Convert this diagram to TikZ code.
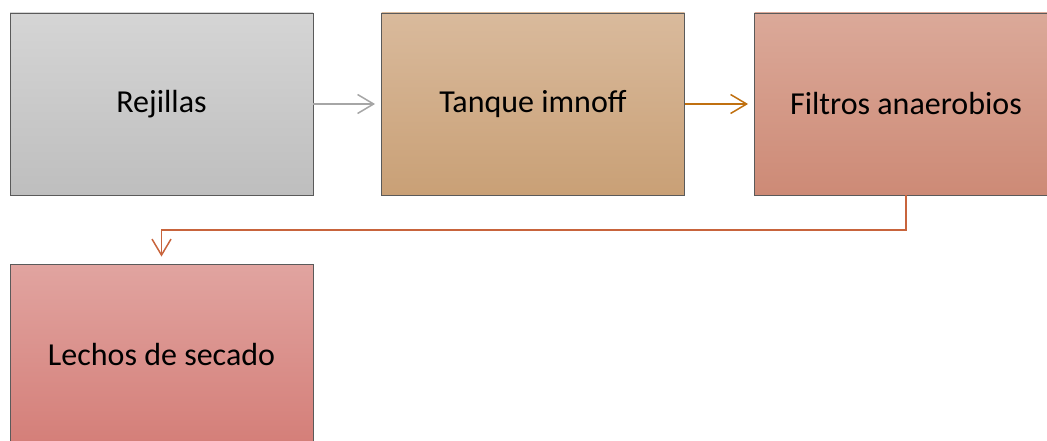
\documentclass[tikz,border=0pt]{standalone}
\usepackage{fontspec}
\setmainfont{Carlito}
\usetikzlibrary{arrows.meta}
\definecolor{borderc}{HTML}{5A5A5A}
\definecolor{grayt}{HTML}{D5D5D5}\definecolor{grayb}{HTML}{BEBEBE}
\definecolor{tant}{HTML}{D9BA9C}\definecolor{tanb}{HTML}{C9A076}
\definecolor{filt}{HTML}{DBA999}\definecolor{filb}{HTML}{CD8A76}
\definecolor{lect}{HTML}{E1A4A0}\definecolor{lecb}{HTML}{D47E78}
\definecolor{arrgray}{HTML}{A6A6A6}
\definecolor{arrorange}{HTML}{C07010}
\definecolor{arrred}{HTML}{C8643C}
\tikzset{
  box/.style={draw=borderc, line width=0.9pt, minimum width=303pt, minimum height=182pt, inner sep=0pt, font=\fontsize{32}{38}\selectfont},
  conn/.style={line width=1.5pt, -{Straight Barb[length=16pt,width=19pt,line width=1.5pt]}},
}
\begin{document}
\begin{tikzpicture}[x=1pt,y=-1pt]
\useasboundingbox (0,0) rectangle (1047,441);
\clip (0,0) rectangle (1047,441);
\node[box, top color=grayt, bottom color=grayb] (rej) at (161.5,104) {Rejillas};
\node[box, top color=tant, bottom color=tanb] (tan) at (533,104) {Tanque imnoff};
\node[box, top color=filt, bottom color=filb] (fil) at (906,104) {Filtros anaerobios};
\node[box, top color=lect, bottom color=lecb] (lec) at (161.5,355) {Lechos de secado};
\draw[conn, draw=arrgray, shorten >=6pt] (rej.east) -- (tan.west);
\draw[conn, draw=arrorange, shorten >=6pt] (tan.east) -- (fil.west);
\coordinate (c1) at (906,230);
\coordinate (c2) at (161.5,230);
\draw[conn, draw=arrred, shorten >=7pt] (fil.south) -- (c1) -- (c2) -- (lec.north);
\end{tikzpicture}
\end{document}
